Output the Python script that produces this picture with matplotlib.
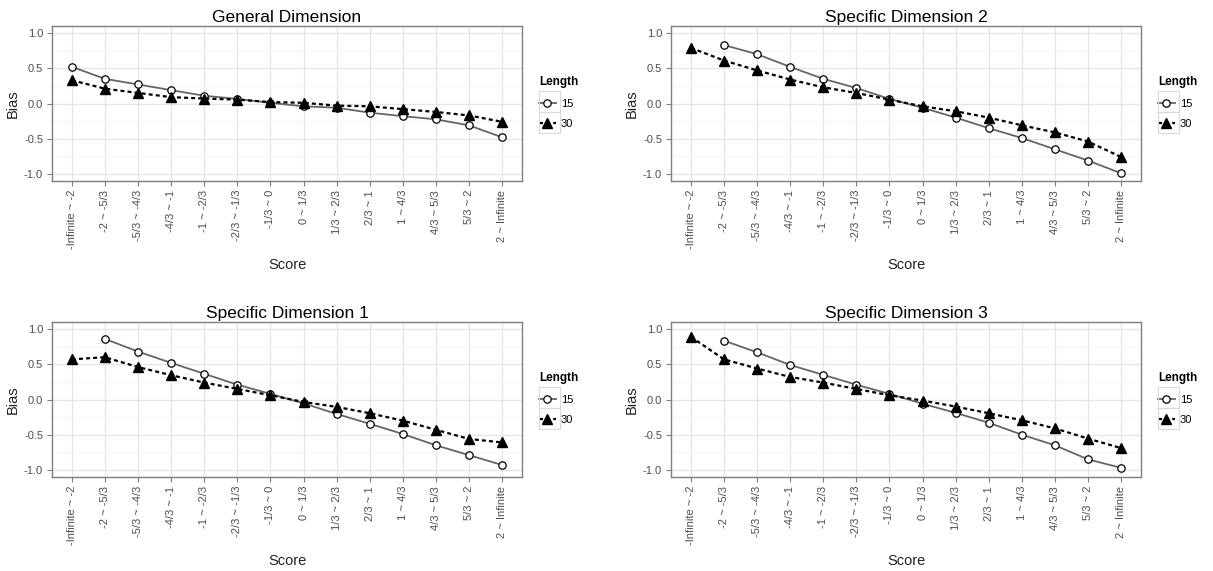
import numpy as np
import matplotlib
matplotlib.use("Agg")
import matplotlib.pyplot as plt
from matplotlib.patches import Rectangle
from matplotlib.ticker import MultipleLocator

plt.rcParams['font.family'] = ['Liberation Sans', 'DejaVu Sans']

categories = ["-Infinite ~ -2", "-2 ~ -5/3", "-5/3 ~ -4/3", "-4/3 ~ -1", "-1 ~ -2/3",
              "-2/3 ~ -1/3", "-1/3 ~ 0", "0 ~ 1/3", "1/3 ~ 2/3", "2/3 ~ 1",
              "1 ~ 4/3", "4/3 ~ 5/3", "5/3 ~ 2", "2 ~ Infinite"]

nan = np.nan
general_15 = [0.52, 0.35, 0.27, 0.19, 0.11, 0.065, 0.01, -0.04, -0.06, -0.13, -0.18, -0.225, -0.31, -0.48]
general_30 = [0.33, 0.21, 0.15, 0.09, 0.07, 0.055, 0.02, 0.01, -0.03, -0.04, -0.08, -0.12, -0.17, -0.26]

spec2_15 = [nan, 0.83, 0.70, 0.52, 0.35, 0.22, 0.065, -0.06, -0.20, -0.35, -0.49, -0.65, -0.81, -0.99]
spec2_30 = [0.79, 0.61, 0.47, 0.34, 0.23, 0.15, 0.055, -0.04, -0.11, -0.20, -0.31, -0.41, -0.54, -0.76]

spec1_15 = [nan, 0.86, 0.68, 0.52, 0.365, 0.21, 0.08, -0.055, -0.205, -0.345, -0.49, -0.65, -0.79, -0.93]
spec1_30 = [0.57, 0.60, 0.46, 0.345, 0.24, 0.15, 0.06, -0.035, -0.105, -0.195, -0.30, -0.43, -0.56, -0.61]

spec3_15 = [nan, 0.835, 0.67, 0.49, 0.35, 0.21, 0.08, -0.06, -0.19, -0.33, -0.50, -0.65, -0.85, -0.97]
spec3_30 = [0.89, 0.57, 0.44, 0.32, 0.24, 0.15, 0.06, -0.015, -0.10, -0.195, -0.295, -0.41, -0.555, -0.69]

panels = [
    ("General Dimension", general_15, general_30, (52, 26)),
    ("Specific Dimension 2", spec2_15, spec2_30, (671, 26)),
    ("Specific Dimension 1", spec1_15, spec1_30, (52, 322)),
    ("Specific Dimension 3", spec3_15, spec3_30, (671, 322)),
]

W, H = 1213, 571
fig = plt.figure(figsize=(W / 100, H / 100), dpi=100)

AX_W, AX_H = 470, 155
tick_color = '#4D4D4D'

for title, s15, s30, (px, py) in panels:
    ax = fig.add_axes([px / W, (H - py - AX_H) / H, AX_W / W, AX_H / H])
    x = np.arange(len(categories))
    ax.plot(x, s15, color='#666666', lw=1.3, ls='-', marker='o', ms=5.3,
            mfc='white', mec='black', mew=0.9, label='15', zorder=3)
    ax.plot(x, s30, color='black', lw=1.6, ls=(0, (1.8, 1.4)), marker='^', ms=7.3,
            mfc='black', mec='black', label='30', zorder=4)
    ax.set_xlim(-0.6, len(categories) - 1 + 0.6)
    ax.set_ylim(-1.1, 1.1)
    ax.set_xticks(x)
    ax.set_xticklabels(categories, rotation=90, fontsize=8, color=tick_color)
    ax.yaxis.set_major_locator(MultipleLocator(0.5))
    ax.yaxis.set_minor_locator(MultipleLocator(0.25))
    ax.set_yticks([-1.0, -0.5, 0.0, 0.5, 1.0])
    ax.set_yticklabels(['-1.0', '-0.5', '0.0', '0.5', '1.0'], fontsize=8, color=tick_color)
    ax.tick_params(axis='both', which='major', length=3.4, width=0.8, color='#7F7F7F', pad=3)
    ax.tick_params(axis='y', which='minor', length=0)
    ax.grid(True, which='major', color='#E5E5E5', lw=0.9, zorder=0)
    ax.grid(True, which='minor', axis='y', color='#F7F7F7', lw=0.9, zorder=0)
    ax.set_axisbelow(True)
    for sp in ax.spines.values():
        sp.set_color('#7F7F7F')
        sp.set_linewidth(1.0)
    ax.set_title(title, fontsize=12.5, pad=3)
    ax.set_xlabel('Score', fontsize=10.5, color='#222222', labelpad=6)
    ax.set_ylabel('Bias', fontsize=10.5, color='#222222', labelpad=3)

    leg = ax.legend(title='Length', loc='upper left',
                    bbox_transform=fig.transFigure,
                    bbox_to_anchor=((px + 487) / W, (H - py - 50) / H),
                    frameon=False, fontsize=8, title_fontsize=8.5,
                    handlelength=1.5, handletextpad=0.45, labelspacing=0.95,
                    borderpad=0, borderaxespad=0, alignment='left')
    leg.get_title().set_fontweight('bold')
    # key boxes
    for k in range(2):
        fig.patches.append(Rectangle(((px + 487) / W, (H - py - 86 - 21 * k) / H),
                                     21 / W, 21 / H, transform=fig.transFigure,
                                     fill=False, edgecolor='#D9D9D9', lw=0.8))

fig.savefig('out.png', dpi=100, facecolor='white')
